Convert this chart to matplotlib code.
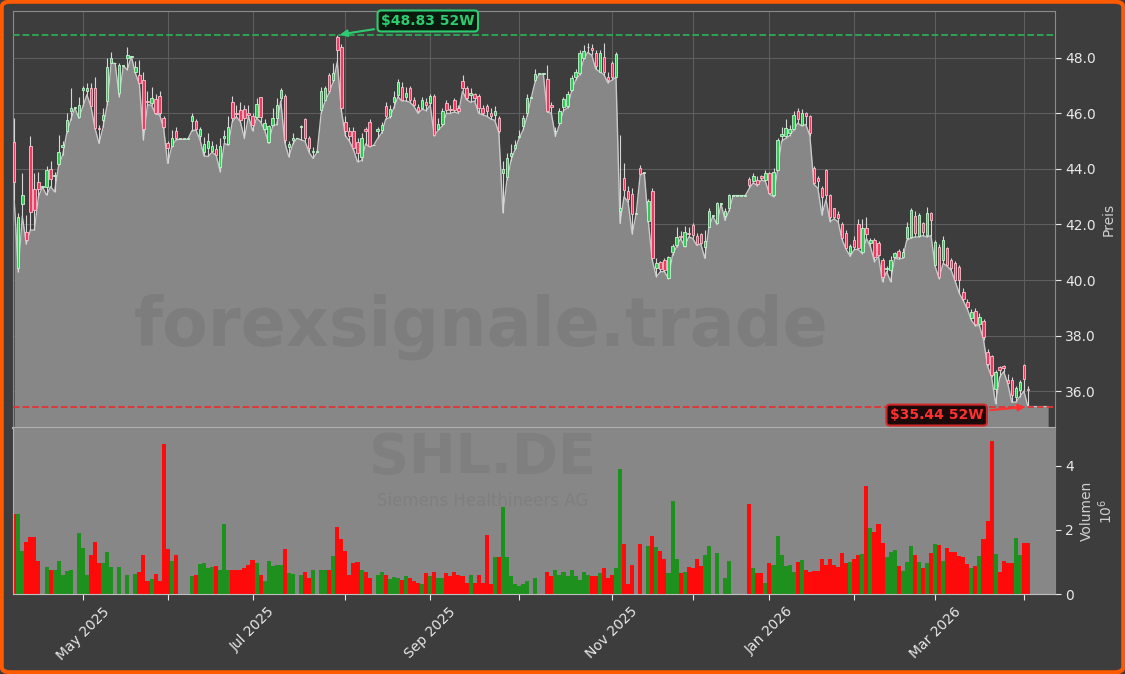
import numpy as np
import pandas as pd
import matplotlib
matplotlib.use('Agg')
import matplotlib.pyplot as plt
from matplotlib.patches import FancyBboxPatch

# trading days (index based x axis)
holidays = ['2025-04-18', '2025-04-21', '2025-05-01', '2025-12-24',
            '2025-12-25', '2025-12-26', '2025-12-31', '2026-01-01']
dates = pd.bdate_range('2025-04-04', '2026-04-02')
dates = dates[~dates.isin(pd.to_datetime(holidays))]

open_px = [
    44.98, 40.42, 42.73, 41.74, 44.81, 43.27, 43.54, 43.35, 43.36, 43.99,
    43.75, 44.18, 44.80, 45.35, 46.07, 46.20, 45.88, 46.85, 46.80, 46.90,
    46.90, 45.47, 45.77, 46.43, 47.83, 47.80, 46.73, 47.72, 48.00, 48.05,
    47.48, 47.39, 47.21, 46.45, 46.39, 46.51, 46.63, 45.83, 44.95, 44.83,
    45.38, 45.07, 45.07, 45.07, 45.71, 45.71, 45.20, 44.60, 44.75, 44.63,
    44.71, 44.08, 45.11, 44.90, 46.40, 46.00, 46.13, 46.15, 46.00, 45.90,
    45.88, 46.58, 45.43, 44.98, 45.59, 45.83, 46.55, 46.61, 44.80, 45.05,
    45.10, 45.50, 45.79, 45.10, 44.60, 44.60, 46.13, 46.49, 47.39, 47.21,
    48.77, 48.38, 45.70, 45.35, 45.35, 44.98, 44.44, 45.43, 45.70, 44.85,
    45.35, 45.40, 46.25, 45.90, 46.40, 46.67, 46.95, 46.60, 46.90, 46.50,
    46.22, 46.20, 46.40, 46.37, 46.63, 45.43, 45.62, 46.37, 46.15, 46.49,
    46.20, 47.17, 46.90, 46.67, 46.70, 46.63, 46.20, 46.27, 46.00, 45.95,
    45.83, 43.85, 43.72, 44.45, 44.75, 45.15, 45.53, 46.02, 46.55, 47.21,
    47.42, 47.42, 47.23, 46.30, 45.35, 45.67, 46.22, 46.25, 46.85, 47.33,
    47.45, 47.99, 48.38, 48.35, 48.17, 47.50, 48.05, 47.30, 47.80, 47.33,
    42.50, 43.66, 43.20, 43.10, 42.38, 44.02, 43.85, 42.14, 43.20, 40.42,
    40.64, 40.72, 40.06, 41.02, 41.26, 41.60, 41.23, 41.70, 41.98, 41.60,
    41.66, 41.20, 41.92, 42.30, 42.04, 42.75, 42.30, 42.58, 43.04, 43.04,
    43.04, 43.04, 43.64, 43.58, 43.60, 43.75, 43.60, 43.84, 43.06, 43.96,
    45.20, 45.19, 45.28, 45.43, 46.10, 45.60, 46.00, 45.89, 44.02, 43.66,
    43.30, 43.96, 43.06, 42.58, 42.38, 42.02, 41.68, 40.96, 41.44, 42.02,
    41.02, 41.89, 41.32, 41.44, 41.32, 40.72, 40.38, 40.36, 40.84, 41.05,
    40.84, 41.50, 41.56, 42.30, 41.60, 42.04, 41.62, 42.40, 40.54, 41.20,
    40.72, 41.14, 40.72, 40.60, 40.48, 39.58, 39.22, 38.62, 38.90, 38.41,
    38.52, 37.39, 37.26, 36.06, 36.85, 36.90, 36.40, 36.40, 35.80, 36.03,
    36.94, 36.05]

high_px = [
    45.83, 42.40, 43.85, 42.34, 45.17, 43.84, 43.90, 43.35, 44.10, 44.30,
    43.90, 45.22, 45.00, 46.00, 46.90, 46.20, 46.60, 47.00, 47.10, 47.10,
    47.30, 45.60, 46.20, 47.99, 48.23, 47.80, 47.80, 47.72, 48.40, 48.05,
    47.90, 47.93, 47.50, 46.80, 46.97, 46.70, 46.79, 45.90, 45.00, 45.40,
    45.50, 45.07, 45.07, 45.07, 46.00, 45.80, 45.50, 45.15, 45.30, 45.00,
    44.90, 45.10, 45.40, 45.90, 46.63, 46.30, 46.40, 46.30, 46.30, 46.00,
    46.55, 46.60, 45.80, 45.60, 46.20, 46.55, 46.90, 46.70, 45.00, 45.30,
    45.10, 45.60, 45.85, 45.20, 44.80, 44.60, 46.95, 47.00, 47.45, 47.80,
    48.83, 48.50, 45.90, 45.50, 45.50, 45.10, 45.30, 45.50, 45.80, 44.85,
    45.50, 45.70, 46.40, 46.30, 46.80, 47.25, 47.15, 46.95, 47.00, 46.60,
    46.35, 46.60, 46.55, 46.70, 46.70, 45.85, 46.20, 46.50, 46.30, 46.55,
    46.30, 47.40, 47.00, 46.90, 46.75, 46.70, 46.30, 46.35, 46.20, 46.25,
    45.90, 44.30, 44.56, 44.90, 45.05, 45.40, 45.95, 46.70, 46.55, 47.60,
    47.42, 47.42, 47.75, 46.40, 45.50, 46.20, 46.60, 46.80, 47.40, 47.60,
    48.30, 48.45, 48.55, 48.50, 48.30, 48.30, 48.55, 47.50, 47.90, 48.20,
    45.22, 44.20, 43.40, 43.30, 42.38, 44.14, 43.85, 42.90, 43.30, 40.80,
    40.70, 40.80, 40.85, 41.30, 41.90, 41.75, 41.95, 41.90, 42.05, 41.70,
    41.70, 41.80, 42.60, 42.30, 42.80, 42.75, 42.60, 43.10, 43.04, 43.04,
    43.04, 43.04, 43.70, 43.85, 43.75, 43.80, 43.95, 43.90, 44.05, 45.10,
    45.50, 45.80, 45.60, 46.10, 46.20, 46.15, 46.05, 45.95, 44.10, 43.75,
    43.40, 44.00, 43.10, 42.60, 42.50, 42.10, 41.80, 41.30, 41.60, 42.20,
    42.20, 42.28, 41.50, 41.50, 41.40, 40.80, 40.50, 40.85, 41.00, 41.10,
    41.15, 42.10, 42.60, 42.50, 42.40, 42.10, 42.62, 42.45, 41.45, 41.30,
    41.60, 41.20, 40.80, 40.70, 40.55, 39.70, 39.30, 38.95, 39.00, 38.80,
    38.60, 37.50, 37.30, 36.75, 36.90, 36.95, 36.60, 36.50, 36.20, 36.40,
    36.99, 36.20]

low_px = [
    42.88, 40.30, 42.30, 41.30, 41.80, 41.80, 43.00, 43.35, 43.06, 43.36,
    43.18, 44.14, 44.50, 45.28, 45.77, 46.20, 45.83, 46.25, 46.67, 46.25,
    45.47, 44.92, 45.50, 46.30, 47.82, 47.80, 46.60, 47.72, 47.57, 48.05,
    47.45, 47.05, 45.05, 46.31, 46.30, 45.98, 45.95, 45.47, 44.20, 44.80,
    45.05, 45.07, 45.07, 45.07, 45.38, 45.40, 45.05, 44.47, 44.45, 44.60,
    44.50, 43.90, 44.92, 44.86, 45.70, 45.88, 45.70, 45.10, 45.90, 45.38,
    45.83, 45.70, 45.40, 44.92, 45.55, 45.60, 46.45, 44.95, 44.44, 44.90,
    45.10, 45.05, 45.00, 44.60, 44.38, 44.60, 46.00, 46.45, 46.75, 47.15,
    47.86, 46.10, 45.20, 45.00, 44.70, 44.26, 44.30, 44.90, 44.80, 44.85,
    45.10, 45.30, 45.80, 45.85, 46.20, 46.60, 46.45, 46.45, 46.40, 46.25,
    46.00, 46.15, 46.10, 46.30, 45.20, 45.40, 45.55, 46.00, 46.00, 46.05,
    46.00, 46.80, 46.50, 46.40, 46.45, 46.00, 45.95, 45.90, 45.80, 45.75,
    45.30, 42.43, 43.60, 44.30, 44.70, 45.10, 45.40, 45.90, 46.55, 47.15,
    47.42, 47.42, 46.05, 46.00, 45.17, 45.60, 46.10, 46.20, 46.80, 47.20,
    47.40, 47.95, 48.20, 48.10, 47.60, 47.50, 47.40, 47.10, 47.20, 47.30,
    42.04, 43.00, 42.80, 41.66, 42.38, 43.80, 43.85, 42.10, 40.70, 40.12,
    40.30, 40.30, 40.05, 40.90, 41.20, 41.50, 41.20, 41.55, 41.50, 41.25,
    41.30, 40.78, 41.90, 42.30, 42.00, 42.75, 42.15, 42.50, 43.04, 43.04,
    43.04, 43.04, 43.30, 43.50, 43.40, 43.60, 43.55, 43.10, 43.00, 43.95,
    45.00, 45.10, 45.20, 45.40, 45.65, 45.55, 45.60, 45.20, 43.45, 43.30,
    42.34, 42.90, 42.10, 42.20, 42.10, 41.45, 41.10, 40.85, 41.10, 41.10,
    40.95, 41.50, 41.20, 40.66, 40.85, 39.94, 40.30, 39.94, 40.80, 40.75,
    40.78, 41.44, 41.50, 41.55, 41.55, 41.60, 41.55, 41.60, 40.50, 40.05,
    40.60, 40.50, 40.35, 39.95, 39.52, 39.25, 38.95, 38.55, 38.35, 38.35,
    37.85, 36.90, 36.50, 35.55, 36.50, 36.70, 36.27, 35.60, 35.60, 35.80,
    36.00, 35.44]

close_px = [
    43.54, 42.28, 43.06, 41.44, 42.46, 42.52, 43.28, 43.35, 43.96, 43.63,
    43.80, 44.62, 44.85, 45.77, 46.19, 46.20, 46.31, 46.90, 46.90, 46.25,
    45.47, 45.45, 45.95, 47.69, 47.99, 47.80, 47.75, 47.72, 48.11, 48.05,
    47.66, 47.09, 45.43, 46.40, 46.55, 46.00, 46.00, 45.50, 44.75, 45.13,
    45.10, 45.07, 45.07, 45.07, 45.91, 45.43, 45.43, 44.90, 44.99, 44.83,
    44.50, 44.83, 45.19, 45.50, 45.83, 45.98, 45.77, 45.83, 45.95, 45.60,
    46.34, 45.86, 45.65, 45.55, 45.83, 46.31, 46.85, 45.05, 44.90, 45.10,
    45.10, 45.55, 45.10, 44.75, 44.65, 44.60, 46.82, 46.91, 46.79, 47.45,
    48.29, 46.18, 45.35, 45.19, 44.75, 44.57, 45.10, 45.35, 44.83, 44.85,
    45.43, 45.60, 45.89, 46.15, 46.60, 47.15, 46.50, 46.75, 46.50, 46.30,
    46.10, 46.50, 46.30, 46.61, 45.23, 45.62, 46.10, 46.13, 46.13, 46.13,
    46.10, 46.90, 46.55, 46.75, 46.55, 46.20, 46.00, 46.07, 45.90, 46.10,
    45.35, 44.00, 44.38, 44.56, 44.85, 45.20, 45.83, 46.56, 46.55, 47.42,
    47.42, 47.42, 46.10, 46.22, 45.36, 46.07, 46.51, 46.70, 47.27, 47.51,
    48.19, 48.26, 48.40, 48.30, 47.71, 48.19, 47.50, 47.20, 47.33, 48.14,
    42.60, 43.24, 42.90, 42.38, 42.38, 43.82, 43.85, 42.86, 40.78, 40.62,
    40.38, 40.36, 40.82, 41.23, 41.56, 41.55, 41.74, 41.65, 41.62, 41.30,
    41.32, 41.40, 42.50, 42.30, 42.79, 42.75, 42.50, 43.06, 43.04, 43.04,
    43.04, 43.04, 43.42, 43.75, 43.46, 43.67, 43.87, 43.12, 43.88, 45.05,
    45.26, 45.47, 45.43, 45.95, 45.80, 46.00, 45.90, 45.28, 43.48, 43.55,
    43.00, 43.06, 42.28, 42.28, 42.22, 41.50, 41.14, 41.22, 41.20, 41.14,
    41.86, 41.66, 41.44, 40.84, 40.90, 40.12, 40.42, 40.72, 40.96, 40.84,
    41.00, 41.92, 42.52, 41.70, 42.35, 41.74, 42.43, 42.16, 41.38, 40.12,
    41.44, 40.54, 40.42, 40.00, 40.00, 39.30, 39.04, 38.86, 38.41, 38.68,
    37.93, 36.99, 36.58, 36.70, 36.76, 36.82, 36.30, 35.86, 36.10, 36.34,
    36.42, 36.03]

# volume in millions
volume_mio = [
    2.49, 2.49, 1.33, 1.62, 1.78, 1.78, 1.02, 0, 0.83, 0.76,
    0.76, 1.04, 0.58, 0.71, 0.74, 0, 1.89, 1.42, 0.60, 1.20,
    1.61, 0.95, 0.95, 1.32, 0.83, 0, 0.83, 0, 0.60, 0,
    0.63, 0.68, 1.23, 0.41, 0.47, 0.63, 0.41, 4.67, 1.39, 1.04,
    1.20, 0, 0, 0, 0.57, 0.60, 0.94, 0.95, 0.80, 0.83,
    0.88, 0.75, 2.18, 0.76, 0.76, 0.76, 0.74, 0.81, 0.90, 1.06,
    0.95, 0.58, 0.39, 1.04, 0.86, 0.91, 0.89, 1.39, 0.65, 0.63,
    0, 0.60, 0.67, 0.51, 0.76, 0, 0.74, 0.74, 0.74, 1.17,
    2.10, 1.72, 1.33, 0.60, 0.95, 1.00, 0.76, 0.70, 0.50, 0,
    0.60, 0.68, 0.58, 0.47, 0.52, 0.50, 0.45, 0.55, 0.50, 0.40,
    0.35, 0.30, 0.65, 0.55, 0.70, 0.50, 0.50, 0.65, 0.55, 0.70,
    0.60, 0.55, 0.35, 0.60, 0.35, 0.60, 0.35, 1.85, 0.30, 1.15,
    1.15, 2.70, 1.15, 0.55, 0.30, 0.25, 0.30, 0.40, 0, 0.50,
    0, 0, 0.70, 0.55, 0.75, 0.60, 0.70, 0.55, 0.75, 0.55,
    0.45, 0.70, 0.60, 0.55, 0.55, 0.65, 0.80, 0.50, 0.60, 0.80,
    3.90, 1.55, 0.30, 0.90, 0, 1.55, 0, 1.50, 1.80, 1.45,
    1.35, 1.10, 0.65, 2.90, 1.10, 0.65, 0.70, 0.85, 0.80, 1.10,
    0.88, 1.23, 1.48, 0, 1.29, 0, 0.50, 1.04, 0, 0,
    0, 0, 2.81, 0.82, 0.64, 0.66, 0.34, 0.95, 0.89, 1.80,
    1.20, 0.86, 0.89, 0.70, 0.99, 1.05, 0.76, 0.68, 0.73, 0.71,
    1.10, 0.89, 1.10, 0.89, 0.83, 1.28, 0.95, 1.00, 1.10, 1.23,
    1.25, 3.37, 2.05, 1.93, 2.17, 1.58, 1.14, 1.30, 1.36, 0.87,
    0.73, 1.00, 1.51, 1.20, 1.00, 0.81, 0.95, 1.27, 1.55, 1.52,
    1.04, 1.42, 1.30, 1.30, 1.17, 1.15, 0.93, 0.82, 0.87, 1.17,
    1.70, 2.27, 4.77, 1.26, 0.70, 1.04, 0.97, 0.97, 1.73, 1.20,
    1.58, 1.58]

ticker = 'SHL.DE'
company = 'Siemens Healthineers AG'
watermark = 'forexsignale.trade'

n = len(dates)
assert len(open_px) == len(high_px) == len(low_px) == len(close_px) == len(volume_mio) == n

o = np.array(open_px)
h = np.array(high_px)
l = np.array(low_px)
c = np.array(close_px)
v = np.array(volume_mio)
idx = np.arange(n)
up = c >= o

bg = '#3d3d3d'
fig = plt.figure(figsize=(11.25, 6.74), dpi=100, facecolor=bg)
ax = fig.add_axes([0.01156, 0.3650, 0.92622, 0.6187])
axv = fig.add_axes([0.01156, 0.11869, 0.92622, 0.2463], sharex=ax)

# --- price panel
ax.set_facecolor(bg)
ymin, ymax = 34.67, 49.69
ax.set_ylim(ymin, ymax)
ax.set_xlim(-0.3, n + 5.7)

# area under the lows, carried a few bars past the last one
x_fill = np.append(idx, idx[-1] + 5)
l_fill = np.append(l, l[-1])
ax.fill_between(x_fill, l_fill, ymin, color='#878787', lw=0, zorder=1)
ax.plot(x_fill, l_fill, color='#c8c8c8', lw=1.0, zorder=1.5)

ax.vlines(idx, l, h, color='#d6d6d6', lw=0.8, zorder=3)
bottom = np.minimum(o, c)
height = np.maximum(np.abs(c - o), 0.03)
ax.bar(idx[up], height[up], bottom=bottom[up], width=0.6, color='#35c759',
       edgecolor='#c6f6d0', linewidth=0.6, zorder=4)
ax.bar(idx[~up], height[~up], bottom=bottom[~up], width=0.6, color='#ee3b62',
       edgecolor='#ffc2cf', linewidth=0.6, zorder=4)

i_hi = int(np.argmax(h))
i_lo = int(np.argmin(l))
hi, lo = h[i_hi], l[i_lo]
ax.axhline(hi, color='#2eaa55', ls='--', lw=1.3, zorder=4.5)
ax.axhline(lo, color='#e03535', ls='--', lw=1.3, zorder=4.5)

ax.annotate(f'\\${hi:.2f} 52W', xy=(i_hi, hi), xytext=(102.4, 49.33),
            ha='center', va='center', color='#2ecc71', fontsize=10, fontweight='bold',
            bbox=dict(boxstyle='round,pad=0.25', fc='#0b1a0f', ec='#2ecc71', lw=1.5),
            arrowprops=dict(arrowstyle='-|>', color='#2ecc71', lw=1.5, mutation_scale=10),
            zorder=6)
ax.annotate(f'\\${lo:.2f} 52W', xy=(i_lo, lo), xytext=(228.4, 35.135),
            ha='center', va='center', color='#ff3030', fontsize=10, fontweight='bold',
            bbox=dict(boxstyle='round,pad=0.25', fc='#1c0a0a', ec='#d02828', lw=1.5),
            arrowprops=dict(arrowstyle='-|>', color='#ff3030', lw=1.5, mutation_scale=10),
            zorder=6)

ax.yaxis.tick_right()
ax.yaxis.set_label_position('right')
ax.set_yticks(np.arange(36, 49, 2))
ax.set_yticklabels([f'{t:.1f}' for t in np.arange(36, 49, 2)])
ax.set_ylabel('Preis', color='#cfcfcf', fontsize=10)
ax.grid(True, color='#5e5e5e', lw=0.8, zorder=0.5)
ax.set_axisbelow(True)
ax.tick_params(axis='x', bottom=False, labelbottom=False)
ax.tick_params(axis='y', colors='#e8e8e8', labelsize=10, length=4)
for side in ['top', 'left', 'right']:
    ax.spines[side].set_color('#8a8a8a')
ax.spines['bottom'].set_color('#b0b0b0')
ax.spines['bottom'].set_linewidth(1.5)

# --- volume panel
axv.set_facecolor('#878787')
vol_colors = np.where(up, '#1e901e', '#ff0a0a')
axv.bar(idx, v, width=1.0, color=vol_colors, linewidth=0, zorder=2)
axv.set_ylim(0, 5.17)
axv.yaxis.tick_right()
axv.yaxis.set_label_position('right')
axv.set_yticks([0, 2, 4])
axv.set_ylabel('Volumen\n$10^6$', color='#cfcfcf', fontsize=10)
axv.tick_params(axis='y', colors='#e8e8e8', labelsize=10, length=4)

month_start = [i for i in range(1, n) if dates[i].month != dates[i - 1].month]
axv.set_xticks(month_start)
axv.set_xticklabels([dates[i].strftime('%b %Y') if dates[i].month % 2 == 1 else ''
                     for i in month_start])
axv.tick_params(axis='x', colors='#e8e8e8', labelsize=10, length=4, labelrotation=45)
axv.spines['top'].set_visible(False)
axv.spines['left'].set_color('#b0b0b0')
axv.spines['bottom'].set_color('#c0c0c0')
axv.spines['right'].set_color('#8a8a8a')

# watermarks
fig.text(0.4275, 0.5148, watermark, ha='center', va='center', fontsize=48,
         fontweight='bold', color='#7d7d7d', zorder=2.5)
fig.text(0.4285, 0.3205, ticker, ha='center', va='center', fontsize=40,
         fontweight='bold', color='#7f7f7f', zorder=0)
fig.text(0.4293, 0.2570, company, ha='center', va='center', fontsize=12,
         color='#7f7f7f', zorder=0)

# orange frame
fig.patches.append(FancyBboxPatch((0.0015, 0.0025), 0.997, 0.995,
                                  boxstyle='round,pad=0,rounding_size=0.008',
                                  transform=fig.transFigure, fc='none',
                                  ec='#ff5a00', lw=3))

fig.savefig('out.png', dpi=100, facecolor=bg)
